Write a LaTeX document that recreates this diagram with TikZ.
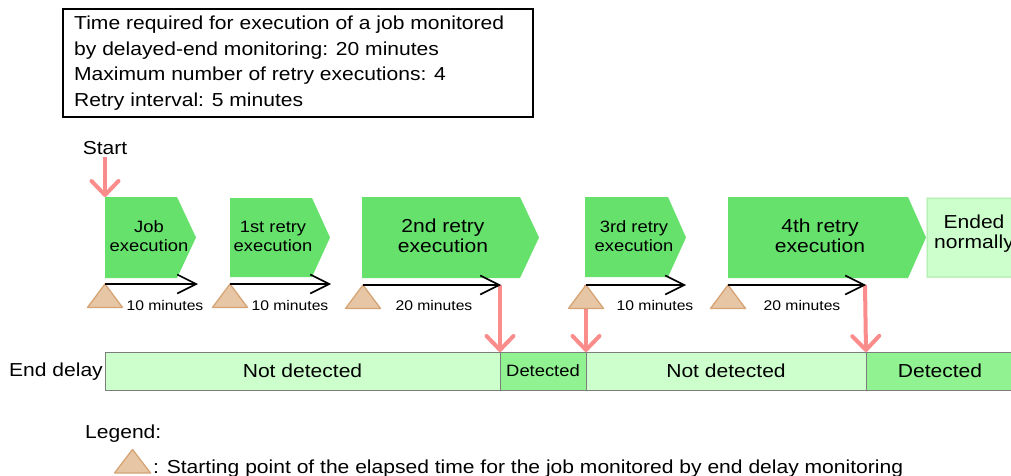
\documentclass[tikz,border=0pt]{standalone}
\usepackage{fontspec}
\setmainfont{Liberation Sans}[FakeStretch=1.12]
\usetikzlibrary{arrows.meta}
\definecolor{jobgreen}{RGB}{102,226,108}
\definecolor{lightg}{RGB}{204,255,204}
\definecolor{detg}{RGB}{144,242,144}
\definecolor{endborder}{RGB}{165,235,165}
\definecolor{pinkarr}{RGB}{250,140,140}
\definecolor{tanfill}{RGB}{230,198,165}
\definecolor{tanline}{RGB}{214,164,116}
\definecolor{barline}{RGB}{125,125,125}
\newcommand\fbig{\fontsize{18.8}{25.7}\selectfont}
\newcommand\fpent{\fontsize{18.8}{20}\selectfont}
\newcommand\fmid{\fontsize{16.4}{19}\selectfont}
\newcommand\fsmall{\fontsize{14}{16}\selectfont}
\begin{document}
\begin{tikzpicture}[x=1pt,y=-1pt,
  pent/.style={fill=jobgreen},
  ptxt/.style={align=center,inner sep=0pt},
  tri/.style={fill=tanfill,draw=tanline,line width=1.3pt,line join=round},
  blackarr/.style={black,line width=1.6pt,-{Straight Barb[length=19pt,width=19pt]}},
  pinkarrow/.style={pinkarr,line width=4pt,-{Straight Barb[length=14pt,width=27pt,round]}},
  seg/.style={draw=barline,line width=0.8pt,minimum height=38pt,inner sep=0pt,outer sep=0pt,anchor=north west,font=\fbig},
  mins/.style={anchor=base,inner sep=0pt,font=\fsmall}]
\useasboundingbox (0,0) rectangle (1011,476);
\clip (0,0) rectangle (1011,476);
\fill[white] (0,0) rectangle (1011,476);

% info box
\draw[line width=1.3pt] (63,9) rectangle (533,117);
\node[anchor=north west,align=left,inner sep=0pt,font=\fbig] (info) at (74,15.5)
 {Time required for execution of a job monitored\\by delayed-end monitoring: 20 minutes\\Maximum number of retry executions: 4\\Retry interval: 5 minutes};

% start
\node[anchor=base,inner sep=0pt,font=\fbig] (start) at (105,154) {Start};
\coordinate (st0) at (105,157);
\coordinate (st1) at (105,197);

% pentagons
\fill[pent] (105,197) -- (177,197) -- (196,237.5) -- (177,278) -- (105,278) -- cycle;
\fill[pent] (230,198) -- (312,198) -- (330,237.5) -- (312,277) -- (230,277) -- cycle;
\fill[pent] (362,197) -- (520,197) -- (539,237.5) -- (520,278) -- (362,278) -- cycle;
\fill[pent] (585,197) -- (668,197) -- (686,237.5) -- (668,277) -- (585,277) -- cycle;
\fill[pent] (728,197) -- (908,197) -- (926,237.5) -- (908,278) -- (728,278) -- cycle;
\filldraw[fill=lightg,draw=endborder,line width=1pt] (927,198) -- (1012,198) -- (1030,237.5) -- (1012,277) -- (927,277) -- cycle;

\node[ptxt,font=\fmid] (job) at (149,236) {Job\\execution};
\node[ptxt,font=\fmid] (r1) at (273,236) {1st retry\\execution};
\node[ptxt,font=\fpent] (r2) at (443,236) {2nd retry\\execution};
\node[ptxt,font=\fmid] (r3) at (634,236) {3rd retry\\execution};
\node[ptxt,font=\fpent] (r4) at (820,236) {4th retry\\execution};
\node[ptxt,font=\fpent] (en) at (974,234) {Ended\\normally};

\draw[pinkarrow] (st0) -- (st1);

% end delay bar
\node[anchor=base east,inner sep=0pt,font=\fbig] (ed) at (103,376) {End delay};
\node[seg,fill=lightg,minimum width=395pt] (nd1) at (105,352) {Not detected};
\node[seg,fill=detg,minimum width=86pt,font=\fmid] (d1) at (500,352) {Detected};
\node[seg,fill=lightg,minimum width=280pt] (nd2) at (586,352) {Not detected};
\node[seg,fill=detg,minimum width=148pt] (d2) at (866,352) {Detected};

% start points and measured times
\coordinate (a0) at (105,284); \coordinate (b0) at (198,284);
\coordinate (a1) at (230,284); \coordinate (b1) at (331,284);
\coordinate (a2) at (363,285); \coordinate (b2) at (501,285);
\coordinate (a3) at (586,285); \coordinate (b3) at (686,285);
\coordinate (a4) at (728,285); \coordinate (b4) at (866,285);

\draw[pinkarrow] (500,285) -- (nd1.north east);
\draw[pinkarrow] (a3) -- (d1.north east);
\draw[pinkarrow] (865,285) -- (nd2.north east);

\foreach \p in {a0,a1,a2,a3,a4}
  \filldraw[tri] (\p) -- ++(-17.5,23.5) -- ++(35,0) -- cycle;

\draw[blackarr] (a0) -- (b0);
\draw[blackarr] (a1) -- (b1);
\draw[blackarr] (a2) -- (b2);
\draw[blackarr] (a3) -- (b3);
\draw[blackarr] (a4) -- (b4);

\node[mins] (m0) at (165,310) {10 minutes};
\node[mins] (m1) at (290,310) {10 minutes};
\node[mins] (m2) at (434,310) {20 minutes};
\node[mins] (m3) at (655,310) {10 minutes};
\node[mins] (m4) at (802,310) {20 minutes};

% legend
\node[anchor=base west,inner sep=0pt,font=\fbig] (leg) at (85,438) {Legend:};
\coordinate (lt) at (132.5,449.5);
\filldraw[tri] (lt) -- ++(-18,23.5) -- ++(36,0) -- cycle;
\node[anchor=base west,inner sep=0pt,font=\fbig] (legtxt) at (153,473)
 {: Starting point of the elapsed time for the job monitored by end delay monitoring};
\end{tikzpicture}
\end{document}
